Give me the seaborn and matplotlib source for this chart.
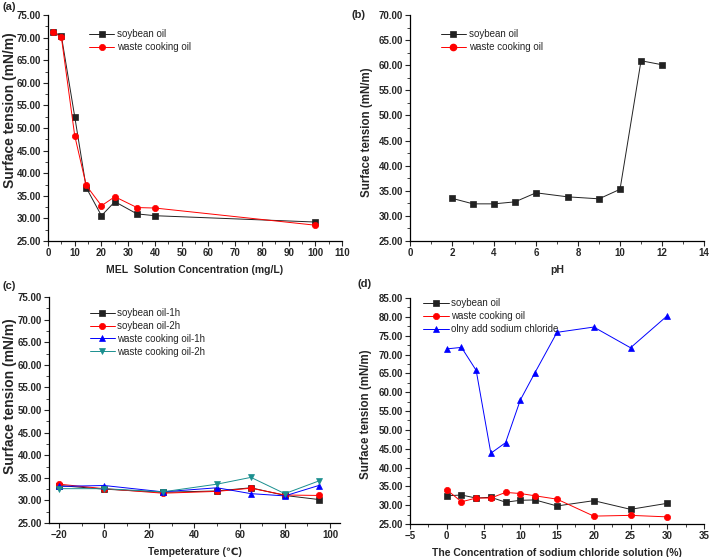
import matplotlib
matplotlib.use('Agg')
import matplotlib.pyplot as plt
import seaborn as sns
from matplotlib.ticker import MultipleLocator, FormatStrFormatter

# (a) MEL concentration
mel_conc = [1.7, 5, 10, 14.3, 20, 25, 33.3, 40, 100]
mel_soy = [71.3, 70.4, 52.5, 36.8, 30.6, 33.7, 31.0, 30.6, 29.2]
mel_waste = [71.3, 70.1, 48.3, 37.3, 32.8, 34.8, 32.4, 32.3, 28.5]

# (b) pH
ph = [2, 3, 4, 5, 6, 7.5, 9, 10, 11, 12]
ph_soy = [33.5, 32.4, 32.4, 32.8, 34.6, 33.8, 33.4, 35.3, 60.9, 60.1]
ph_waste = []

# (c) temperature
temp = [-20, 0, 26, 50, 65, 80, 95]
temp_soy_1h = [33.3, 32.5, 31.8, 32.1, 32.8, 31.1, 30.2]
temp_soy_2h = [33.6, 32.6, 31.6, 32.0, 32.7, 31.2, 31.1]
temp_waste_1h = [33.1, 33.3, 31.9, 32.8, 31.5, 31.0, 33.3]
temp_waste_2h = [32.6, 32.6, 31.9, 33.6, 35.1, 31.5, 34.3]

# (d) sodium chloride
nacl = [0, 2, 4, 6, 8, 10, 12, 15, 20, 25, 30]
nacl_soy = [32.5, 32.7, 31.9, 32.1, 30.8, 31.3, 31.4, 29.8, 31.2, 28.9, 30.5]
nacl_waste = [34.1, 30.9, 31.9, 31.9, 33.4, 33.1, 32.5, 31.6, 27.1, 27.3, 26.9]
nacl_only = [71.5, 71.9, 65.8, 43.8, 46.6, 57.9, 65.2, 75.9, 77.3, 71.8, 80.3]

sns.set_style('ticks')
plt.rcParams['font.family'] = ['Liberation Sans', 'DejaVu Sans']
plt.rcParams['xtick.direction'] = 'out'
plt.rcParams['ytick.direction'] = 'out'

fig = plt.figure(figsize=(7.09, 5.57), dpi=100)
axa = fig.add_axes([0.0677, 0.5673, 0.4147, 0.4057])
axb = fig.add_axes([0.5783, 0.5673, 0.4147, 0.4057])
axc = fig.add_axes([0.0691, 0.0610, 0.4104, 0.4057])
axd = fig.add_axes([0.5783, 0.0592, 0.4147, 0.4057])

BLUE = '#0000ff'
TEAL = '#1a8f8f'


def draw(ax, x, y, color, marker, label, ms=4.5):
    sns.lineplot(x=x, y=y, ax=ax, color=color, marker=marker, markersize=ms,
                 markeredgecolor=color, markeredgewidth=0.5, linewidth=0.7,
                 label=label, sort=False)


def style(ax, xlim, ylim, xmaj, xmin, ymaj, ymin, xlabel, tag, tagpos, ylab):
    ax.set_xlim(*xlim)
    ax.set_ylim(*ylim)
    ax.xaxis.set_major_locator(MultipleLocator(xmaj))
    ax.xaxis.set_minor_locator(MultipleLocator(xmin))
    ax.yaxis.set_major_locator(MultipleLocator(ymaj))
    ax.yaxis.set_minor_locator(MultipleLocator(ymin))
    ax.yaxis.set_major_formatter(FormatStrFormatter('%.2f'))
    ax.tick_params(which='major', length=3.5, width=0.8, labelsize=7, pad=1.5)
    ax.tick_params(which='minor', length=2, width=0.6)
    for lab in ax.get_xticklabels() + ax.get_yticklabels():
        lab.set_fontweight('bold')
    sns.despine(ax=ax)
    for s in ['left', 'bottom']:
        ax.spines[s].set_linewidth(0.9)
        ax.spines[s].set_color('black')
    ax.set_xlabel(xlabel, fontsize=7.5, fontweight='bold', labelpad=5)
    # ylabel: (x of text bottom, y centre, size)
    ax.set_ylabel('Surface tension (mN/m)', fontsize=ylab[2], fontweight='bold')
    ax.yaxis.set_label_coords(ylab[0], ylab[1])
    ax.text(tagpos[0], tagpos[1], tag, transform=ax.transAxes, fontsize=8,
            fontweight='bold', va='center', ha='left')


def legend(ax, x, y):
    ax.legend(loc='upper left', bbox_to_anchor=(x, y), frameon=False, fontsize=7,
              handlelength=2.6, handletextpad=0.25, labelspacing=0.3)


# (a)
draw(axa, mel_conc, mel_soy, '#222222', 's', 'soybean oil')
draw(axa, mel_conc, mel_waste, 'red', 'o', 'waste cooking oil')
style(axa, (0, 110), (25, 75), 10, 5, 5, 2.5, 'MEL  Solution Concentration (mg/L)',
      '(a)', (-0.156, 1.035), (-0.105, 0.58, 10))
legend(axa, 0.11, 0.975)

# (b)
draw(axb, ph, ph_soy, '#222222', 's', 'soybean oil')
axb.plot(ph_waste, ph_waste, color='red', marker='o', markersize=4.5, linewidth=0.7,
         label='waste cooking oil')
style(axb, (0, 14), (25, 70), 2, 1, 5, 2.5, 'pH', '(b)', (-0.20, 1.0),
      (-0.126, 0.482, 8.3))
legend(axb, 0.075, 0.975)

# (c)
draw(axc, temp, temp_soy_1h, '#222222', 's', 'soybean oil-1h')
draw(axc, temp, temp_soy_2h, 'red', 'o', 'soybean oil-2h')
draw(axc, temp, temp_waste_1h, BLUE, '^', 'waste cooking oil-1h')
draw(axc, temp, temp_waste_2h, TEAL, 'v', 'waste cooking oil-2h')
style(axc, (-24.4, 104.4), (25, 75), 20, 10, 5, 2.5, 'Tempeterature (℃)',
      '(c)', (-0.16, 1.05), (-0.110, 0.562, 10))
legend(axc, 0.11, 0.99)

# (d)
draw(axd, nacl, nacl_soy, '#222222', 's', 'soybean oil')
draw(axd, nacl, nacl_waste, 'red', 'o', 'waste cooking oil')
draw(axd, nacl, nacl_only, BLUE, '^', 'olny add sodium chloride')
style(axd, (-5, 35), (25, 85), 5, 2.5, 5, 2.5,
      'The Concentration of sodium chloride solution (%)', '(d)', (-0.18, 1.06),
      (-0.129, 0.487, 8.3))
legend(axd, 0.016, 1.038)

fig.savefig('out.png', dpi=100)
